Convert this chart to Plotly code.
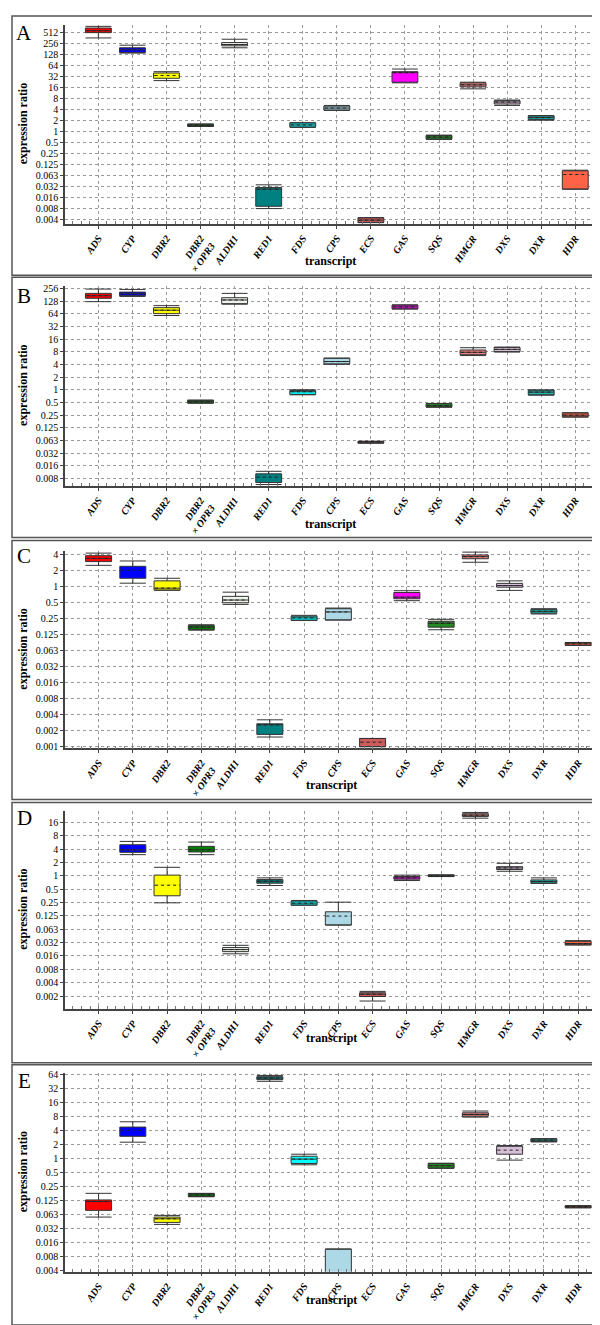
import math
import plotly.graph_objects as go

transcripts = ["ADS", "CYP", "DBR2", "DBR2<br>× OPR3", "ALDH1", "RED1", "FDS", "CPS",
               "ECS", "GAS", "SQS", "HMGR", "DXS", "DXR", "HDR"]
colors = ["#FF0000", "#0000FF", "#FFFF00", "#008000", "#EEF3EC", "#008080", "#00FFFF",
          "#ADD8E6", "#CD5C5C", "#FF00FF", "#228B22", "#F08080", "#D8BFD8", "#20B2AA", "#FF6347"]
panel_letters = ["A", "B", "C", "D", "E"]

ytick_vals = [0.0009765625, 0.001953125, 0.00390625, 0.0078125, 0.015625, 0.03125, 0.0625,
              0.125, 0.25, 0.5, 1, 2, 4, 8, 16, 32, 64, 128, 256, 512]
ytick_text = ["0.001", "0.002", "0.004", "0.008", "0.016", "0.032", "0.063", "0.125", "0.25",
              "0.5", "1", "2", "4", "8", "16", "32", "64", "128", "256", "512"]

# ---- Panel A (whisker low, Q1, median, Q3, whisker high) ----
A_low = [367, 141, 24.9, 1.38, 197, 0.0078, 1.30, 3.8, 0.0032, 21.6, 0.61, 14.8, 5.21, 2.05, 0.0266]
A_q1 = [512, 147, 28.8, 1.40, 223, 0.00903, 1.34, 3.89, 0.00326, 22.5, 0.624, 16.8, 5.70, 2.13, 0.0266]
A_med = [580, 174, 34.3, 1.50, 242, 0.0266, 1.52, 4.41, 0.00377, 41.1, 0.707, 19.0, 6.45, 2.41, 0.0670]
A_q3 = [685, 197, 40.2, 1.59, 274, 0.0296, 1.72, 4.99, 0.00436, 43.7, 0.785, 21.6, 7.01, 2.68, 0.0842]
A_high = [760, 232, 43.7, 1.62, 338, 0.0349, 1.76, 5.2, 0.0044, 51.6, 0.80, 22.5, 7.31, 2.75, 0.0878]

# ---- Panel B ----
B_low = [124, 165, 58.1, 0.48, 108, 0.00563, 0.76, 4.05, 0.054, 83, 0.385, 6.5, 7.9, 0.75, 0.225]
B_q1 = [149, 172, 64.4, 0.486, 111, 0.00631, 0.779, 4.11, 0.0544, 83.3, 0.39, 6.82, 8.06, 0.753, 0.227]
B_med = [172, 191, 77.7, 0.521, 136, 0.00843, 0.901, 4.69, 0.0576, 93.1, 0.42, 7.78, 9.13, 0.883, 0.25]
B_q3 = [195, 209, 89.3, 0.563, 154, 0.0101, 0.966, 5.62, 0.0595, 103, 0.47, 8.81, 10.2, 0.986, 0.283]
B_high = [247, 242, 99.7, 0.57, 195, 0.0116, 1.0, 5.65, 0.06, 104, 0.475, 9.99, 10.3, 0.99, 0.285]

# ---- Panel C ----
C_low = [2.46, 1.14, 0.84, 0.15, 0.457, 0.0015, 0.23, 0.233, 0.00099, 0.536, 0.153, 2.81, 0.835, 0.302, 0.078]
C_q1 = [2.89, 1.41, 0.847, 0.155, 0.49, 0.00168, 0.23, 0.233, 0.00099, 0.582, 0.171, 3.27, 0.959, 0.312, 0.078]
C_med = [3.32, 1.99, 0.92, 0.171, 0.551, 0.00254, 0.255, 0.33, 0.0012, 0.624, 0.203, 3.58, 1.03, 0.339, 0.0836]
C_q3 = [3.73, 2.36, 1.26, 0.183, 0.646, 0.00265, 0.274, 0.379, 0.00141, 0.763, 0.221, 3.84, 1.13, 0.369, 0.0884]
C_high = [4.17, 2.97, 1.41, 0.19, 0.774, 0.00315, 0.285, 0.39, 0.00141, 0.824, 0.24, 4.35, 1.26, 0.379, 0.0884]

# ---- Panel D ----
D_low = [None, 3.01, 0.247, 3.01, 0.0175, 0.607, 0.219, 0.078, 0.00151, 0.785, 0.966, 20.0, 1.27, 0.68, 0.0278]
D_q1 = [None, 3.39, 0.356, 3.46, 0.0196, 0.683, 0.219, 0.078, 0.00191, 0.841, 0.966, 21.9, 1.39, 0.683, 0.0278]
D_med = [None, 3.84, 0.616, 3.89, 0.0218, 0.758, 0.243, 0.124, 0.00215, 0.901, 1.0, 23.4, 1.51, 0.747, 0.0298]
D_q3 = [None, 5.03, 1.04, 4.63, 0.0242, 0.824, 0.27, 0.155, 0.00232, 0.966, 1.05, 25.1, 1.61, 0.812, 0.0335]
D_high = [None, 5.98, 1.56, 5.78, 0.0272, 0.901, 0.279, 0.255, 0.00249, 1.04, 1.05, 26.9, 1.92, 0.901, 0.0347]

# ---- Panel E ----
E_low = [0.0556, 2.27, 0.0387, 0.152, None, 46.2, 0.74, 0.002, None, None, 0.62, 7.84, 0.933, 2.3, 0.088]
E_q1 = [0.0775, 3.03, 0.0427, 0.154, None, 50.2, 0.79, 0.002, None, None, 0.629, 8.22, 1.25, 2.33, 0.0884]
E_med = [0.12, 4.08, 0.0511, 0.167, None, 54.2, 0.98, 0.003, None, None, 0.707, 8.94, 1.53, 2.5, 0.0928]
E_q3 = [0.13, 4.79, 0.0556, 0.178, None, 58.1, 1.13, 0.0113, None, None, 0.79, 9.71, 1.85, 2.66, 0.0974]
E_high = [0.18, 6.23, 0.0604, 0.18, None, 61.8, 1.25, 0.0115, None, None, 0.80, 10.6, 1.92, 2.7, 0.098]

panels = [
    (A_low, A_q1, A_med, A_q3, A_high),
    (B_low, B_q1, B_med, B_q3, B_high),
    (C_low, C_q1, C_med, C_q3, C_high),
    (D_low, D_q1, D_med, D_q3, D_high),
    (E_low, E_q1, E_med, E_q3, E_high),
]

# layout geometry (pixels)
W, H = 600, 1325
plot_top = [12.7, 276, 542.7, 804.3, 1068.3]
plot_bot = [213.3, 477, 741.3, 1003.7, 1268.3]
plot_left = 57
plot_right = [587, 587, 590, 590, 590]
x_range = (-0.98, 14.58)
y_range_log2 = [(-8.39, 9.73), (-7.57, 8.18), (-10.08, 2.19), (-9.96, 4.87), (-8.07, 6.12)]
frame_top = [4, 267, 532, 796, 1060]
frame_bot = [265, 529, 793, 1058, 1322]
xtitle_y = [251, 515, 778, 1033, 1297]
letter_y = [21, 286, 548, 812, 1076]

SERIF = "Liberation Serif"
BOXW = 0.76
LOG2 = math.log10(2)

fig = go.Figure()
layout = dict(width=W, height=H, margin=dict(l=0, r=0, t=0, b=0),
              paper_bgcolor="white", plot_bgcolor="white", showlegend=False)
annotations = []
shapes = []
tick_html = ["<br>".join("<b><i>" + s + "</i></b>" for s in t.split("<br>")) for t in transcripts]

for p, (lo, q1, med, q3, hi) in enumerate(panels):
    n = "" if p == 0 else str(p + 1)
    xa, ya = "x" + n, "y" + n
    for i in range(len(transcripts)):
        if lo[i] is None:
            continue
        fig.add_trace(go.Box(
            x=[i], q1=[q1[i]], median=[med[i]], q3=[q3[i]],
            lowerfence=[lo[i]], upperfence=[hi[i]],
            xaxis=xa, yaxis=ya, width=BOXW, whiskerwidth=1,
            fillcolor=colors[i], line=dict(color="#333333", width=1),
            boxpoints=False, hoverinfo="skip"))
        if math.log2(med[i] / q1[i]) > 0.22 and math.log2(q3[i] / med[i]) > 0.22:
            fig.add_trace(go.Scatter(
                x=[i - BOXW / 2 + 0.03, i + BOXW / 2 - 0.03], y=[med[i], med[i]],
                mode="lines", line=dict(color=colors[i], width=2),
                xaxis=xa, yaxis=ya, hoverinfo="skip"))
        fig.add_trace(go.Scatter(
            x=[i - BOXW / 2 + 0.03, i + BOXW / 2 - 0.03], y=[med[i], med[i]],
            mode="lines", line=dict(color="#222222", width=1, dash="dot"),
            xaxis=xa, yaxis=ya, hoverinfo="skip"))

    dom_y = [1 - plot_bot[p] / H, 1 - plot_top[p] / H]
    layout["xaxis" + n] = dict(
        domain=[plot_left / W, plot_right[p] / W], anchor=ya,
        range=list(x_range), tickmode="array", tickvals=list(range(len(transcripts))),
        ticktext=tick_html, tickangle=-55,
        tickfont=dict(family=SERIF, size=10, color="black"),
        showgrid=True, gridcolor="#9a9a9a", griddash="dot", gridwidth=1,
        showline=True, linecolor="#444444", linewidth=1.5, zeroline=False,
        ticks="outside", ticklen=3, tickcolor="#444444",
        minor=dict(dtick=0.25, tick0=0, ticks="inside", ticklen=3, tickcolor="#777777", showgrid=False),
        fixedrange=True)
    layout["yaxis" + n] = dict(
        domain=dom_y, anchor=xa, type="log",
        range=[y_range_log2[p][0] * LOG2, y_range_log2[p][1] * LOG2],
        tickmode="array", tickvals=ytick_vals, ticktext=ytick_text,
        tickfont=dict(family=SERIF, size=10, color="black"),
        showgrid=True, gridcolor="#9a9a9a", griddash="dot", gridwidth=1,
        showline=True, linecolor="#444444", linewidth=1.5, zeroline=False,
        ticks="outside", ticklen=3, tickcolor="#444444", fixedrange=True)

    shapes.append(dict(type="rect", xref="paper", yref="paper",
                       x0=4 / W, x1=595 / W, y0=1 - frame_bot[p] / H, y1=1 - frame_top[p] / H,
                       line=dict(color="#555555", width=1.5), fillcolor="rgba(0,0,0,0)", layer="below"))
    annotations.append(dict(text=panel_letters[p], xref="paper", yref="paper",
                            x=16 / W, y=1 - letter_y[p] / H, showarrow=False,
                            xanchor="center", yanchor="middle",
                            font=dict(family=SERIF, size=21, color="black")))
    annotations.append(dict(text="<b>expression ratio</b>", xref="paper", yref="paper",
                            x=15 / W, y=1 - (plot_top[p] + plot_bot[p]) / 2 / H, showarrow=False,
                            textangle=-90, xanchor="center", yanchor="middle",
                            font=dict(family=SERIF, size=12, color="black")))
    annotations.append(dict(text="<b>transcript</b>", xref="paper", yref="paper",
                            x=(plot_left + plot_right[p]) / 2 / W, y=1 - xtitle_y[p] / H,
                            showarrow=False, xanchor="center", yanchor="middle",
                            font=dict(family=SERIF, size=12, color="black")))

layout["annotations"] = annotations
layout["shapes"] = shapes
fig.update_layout(**layout)
fig.write_html("out.html")
